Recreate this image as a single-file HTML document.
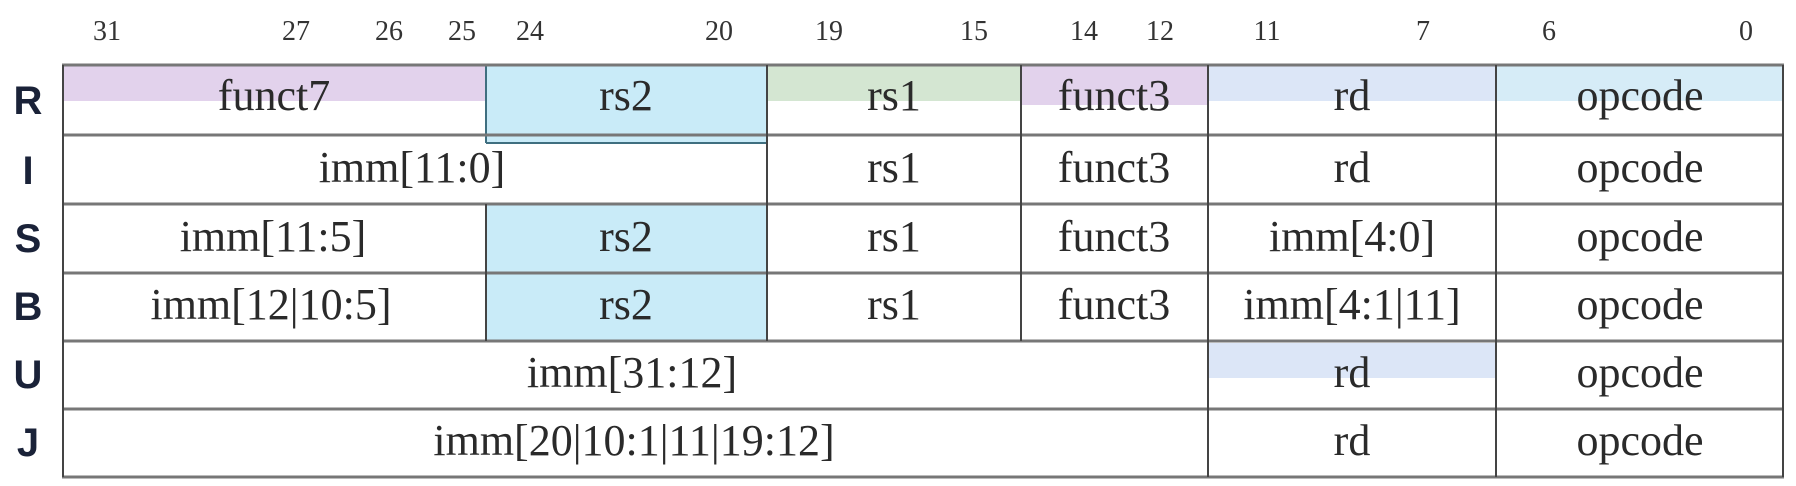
<!DOCTYPE html>
<html><head><meta charset="utf-8"><style>
html,body{margin:0;padding:0;background:#fff;}
svg{display:block}
.b{font-family:"Liberation Serif",serif;font-size:28px;fill:#333;text-anchor:middle}
.t{font-family:"Liberation Serif",serif;font-size:44px;fill:#2a2a2a;text-anchor:middle}
.l{font-family:"Liberation Sans",sans-serif;font-weight:bold;font-size:40px;fill:#1a2238;text-anchor:middle}
</style></head><body>
<svg width="1796" height="486" viewBox="0 0 1796 486" xmlns="http://www.w3.org/2000/svg">
<!-- highlights -->
<rect x="63" y="65" width="423" height="36" fill="#e2d2ec"/>
<rect x="486" y="65" width="281" height="78" fill="#c9ebf8"/>
<rect x="767" y="65" width="254" height="36" fill="#d4e6d2"/>
<rect x="1021" y="65" width="187" height="40" fill="#e2d2ec"/>
<rect x="1208" y="65" width="288" height="36" fill="#dce6f7"/>
<rect x="1496" y="65" width="287" height="36" fill="#d6ecf7"/>
<rect x="486" y="203" width="281" height="138" fill="#c9ebf8"/>
<rect x="1208" y="343" width="288" height="35" fill="#dce6f7"/>
<!-- rs2 borders -->
<g stroke="#3f6f80" stroke-width="2">
<line x1="486" y1="65" x2="486" y2="143"/><line x1="767" y1="65" x2="767" y2="143"/>
<line x1="486" y1="143" x2="767" y2="143"/>
</g>
<!-- horizontal lines -->
<g stroke="#777" stroke-width="3">
<line x1="62" y1="65" x2="1784" y2="65"/>
<line x1="62" y1="135" x2="1784" y2="135"/>
<line x1="62" y1="204" x2="1784" y2="204"/>
<line x1="62" y1="273" x2="1784" y2="273"/>
<line x1="62" y1="341" x2="1784" y2="341"/>
<line x1="62" y1="409" x2="1784" y2="409"/>
<line x1="62" y1="477" x2="1784" y2="477"/>
</g>
<!-- vertical lines -->
<g stroke="#444" stroke-width="2">
<line x1="63" y1="65" x2="63" y2="477"/>
<line x1="1783" y1="65" x2="1783" y2="477"/>
<line x1="486" y1="204" x2="486" y2="341"/>
<line x1="767" y1="135" x2="767" y2="341"/>
<line x1="767" y1="65" x2="767" y2="135"/>
<line x1="1021" y1="65" x2="1021" y2="341"/>
<line x1="1208" y1="65" x2="1208" y2="477"/>
<line x1="1496" y1="65" x2="1496" y2="477"/>
</g>
<!-- bit labels -->
<g class="b">
<text x="107" y="40">31</text><text x="296" y="40">27</text><text x="389" y="40">26</text>
<text x="462" y="40">25</text><text x="530" y="40">24</text><text x="719" y="40">20</text>
<text x="829" y="40">19</text><text x="974" y="40">15</text><text x="1084" y="40">14</text>
<text x="1160" y="40">12</text><text x="1267" y="40">11</text><text x="1423" y="40">7</text>
<text x="1549" y="40">6</text><text x="1746" y="40">0</text>
</g>
<!-- row letters -->
<g class="l">
<text x="28" y="114">R</text><text x="28" y="184">I</text><text x="28" y="252">S</text>
<text x="28" y="320">B</text><text x="28" y="388">U</text><text x="28" y="456">J</text>
</g>
<!-- cell text -->
<g class="t">
<text x="274" y="110">funct7</text><text x="626" y="110">rs2</text><text x="894" y="110">rs1</text>
<text x="1114" y="110">funct3</text><text x="1352" y="110">rd</text><text x="1640" y="110">opcode</text>

<text x="412" y="182">imm[11:0]</text><text x="894" y="182">rs1</text>
<text x="1114" y="182">funct3</text><text x="1352" y="182">rd</text><text x="1640" y="182">opcode</text>

<text x="273" y="251">imm[11:5]</text><text x="626" y="251">rs2</text><text x="894" y="251">rs1</text>
<text x="1114" y="251">funct3</text><text x="1352" y="251">imm[4:0]</text><text x="1640" y="251">opcode</text>

<text x="271" y="319">imm[12|10:5]</text><text x="626" y="319">rs2</text><text x="894" y="319">rs1</text>
<text x="1114" y="319">funct3</text><text x="1352" y="319">imm[4:1|11]</text><text x="1640" y="319">opcode</text>

<text x="632" y="387">imm[31:12]</text><text x="1352" y="387">rd</text><text x="1640" y="387">opcode</text>

<text x="634" y="455">imm[20|10:1|11|19:12]</text><text x="1352" y="455">rd</text><text x="1640" y="455">opcode</text>
</g>
</svg>
</body></html>
